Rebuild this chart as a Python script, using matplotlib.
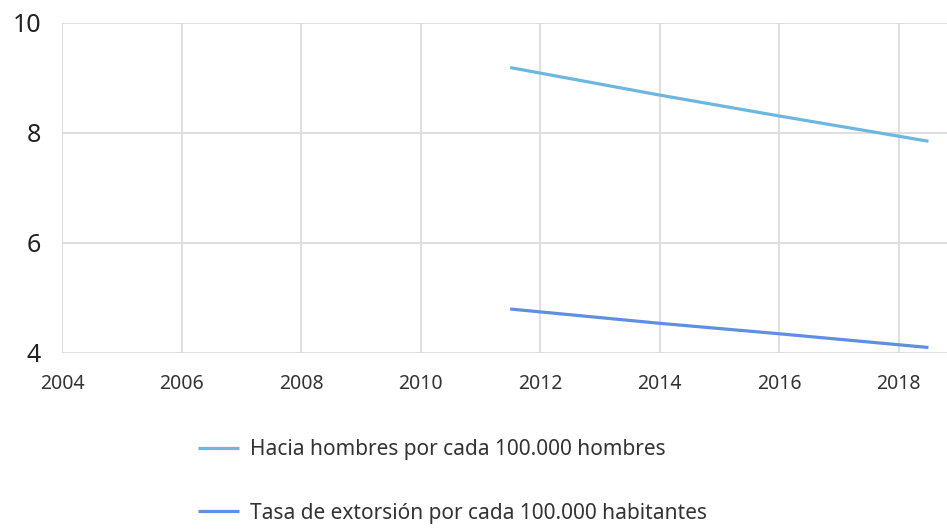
import matplotlib
matplotlib.use("Agg")
import matplotlib.pyplot as plt

# data
years = [2011.5, 2014, 2016, 2018.5]
hacia_hombres = [9.19, 8.69, 8.31, 7.85]
tasa_extorsion = [4.80, 4.54, 4.35, 4.10]

labels = ["Hacia hombres por cada 100.000 hombres",
          "Tasa de extorsión por cada 100.000 habitantes"]
colors = ["#6DB7DF", "#5E8FE0"]

xticks = [2004, 2006, 2008, 2010, 2012, 2014, 2016, 2018]
yticks = [4, 6, 8, 10]

plt.rcParams['font.family'] = ['Noto Sans', 'DejaVu Sans']

fig = plt.figure(figsize=(9.47, 5.29), dpi=100)
ax = fig.add_axes([62 / 947, 1 - 353 / 529, 1 - 62 / 947, 330 / 529])

l1, = ax.plot(years, hacia_hombres, color=colors[0], lw=2.3, solid_capstyle='butt')
l2, = ax.plot(years, tasa_extorsion, color=colors[1], lw=2.3, solid_capstyle='butt')

ax.set_xlim(2004, 2018.81)
ax.set_ylim(4, 10)
ax.set_xticks(xticks)
ax.set_yticks(yticks)
ax.grid(True, color='#dcdcdc', lw=1.3)
ax.set_axisbelow(True)
for s in ax.spines.values():
    s.set_visible(False)
ax.tick_params(axis='both', length=0)
ax.tick_params(axis='x', labelsize=14, labelcolor='#333333', pad=15)
ax.tick_params(axis='y', labelsize=18, labelcolor='#222222', pad=15)

fig.legend([l1, l2], labels, loc='upper left', bbox_to_anchor=(0.2, 0.186),
           frameon=False, fontsize=15, labelspacing=2.05, handlelength=2.0,
           handletextpad=0.5, borderaxespad=0, labelcolor='#333333')

fig.savefig("out.png", dpi=100, facecolor='white')
